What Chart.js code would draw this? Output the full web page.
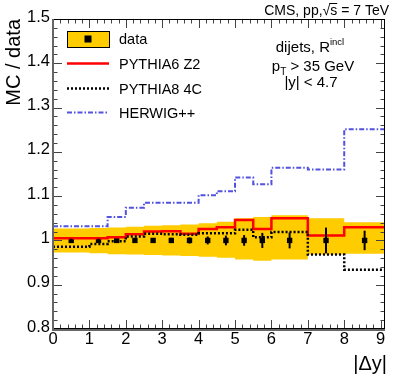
<!DOCTYPE html>
<html>
<head>
<meta charset="utf-8">
<script src="https://cdn.jsdelivr.net/npm/chart.js@4.4.1/dist/chart.umd.min.js"></script>
<style>
  body { margin: 0; background: #fff; }
  canvas { display: block; }
</style>
</head>
<body>
<canvas id="ratioChart" width="407" height="379"></canvas>
<script>
// bin edges in |dy|
const binEdges = [0, 1, 1.5, 2, 2.5, 3, 3.5, 4, 4.5, 5, 5.5, 6, 7, 8, 9.12];

const dataRatio = [1, 1, 1, 1, 1, 1, 1, 1, 1, 1, 1, 1, 1, 1];
const dataStatErr = [0.004, 0.004, 0.004, 0.005, 0.005, 0.006, 0.007, 0.009, 0.011, 0.012, 0.017, 0.018, 0.029, 0.022];
const bandUp = [1.027, 1.028, 1.029, 1.031, 1.033, 1.034, 1.036, 1.039, 1.042, 1.050, 1.053, 1.057, 1.050, 1.041];
const bandDown = [0.973, 0.971, 0.969, 0.968, 0.967, 0.966, 0.965, 0.963, 0.961, 0.957, 0.954, 0.957, 0.968, 0.970];

const pythia6 = [1.005, 1.005, 1.007, 1.014, 1.020, 1.021, 1.015, 1.026, 1.030, 1.046, 1.026, 1.050, 1.011, 1.030];
const pythia8 = [0.986, 0.992, 0.998, 1.009, 1.015, 1.014, 1.013, 1.016, 1.016, 1.024, 1.007, 1.019, 0.968, 0.934];
const herwig = [1.032, 1.032, 1.053, 1.074, 1.085, 1.085, 1.085, 1.102, 1.111, 1.142, 1.127, 1.164, 1.160, 1.251];

const xTickLabels = ['0', '1', '2', '3', '4', '5', '6', '7', '8', '9'];
const yTickLabels = ['0.8', '0.9', '1', '1.1', '1.2', '1.3', '1.4', '1.5'];

const legendNames = ['data', 'PYTHIA6 Z2', 'PYTHIA8 4C', 'HERWIG++'];

const FONT = '"Liberation Sans", Arial, Helvetica, sans-serif';
const BAND = '#ffcc00';
const RED = '#ff0000';
const BLUE = '#5252e0';

// histogram outline: both edges of every bin
function histPoints(values) {
    const pts = [];
    values.forEach((v, i) => {
        pts.push({ x: binEdges[i], y: v });
        pts.push({ x: binEdges[i + 1], y: v });
    });
    return pts;
}

const binCenters = dataRatio.map((v, i) => ({ x: (binEdges[i] + binEdges[i + 1]) / 2, y: v }));

function drawText(ctx, parts, x, y, align) {
    // parts: [text, size, dy]
    let total = 0;
    parts.forEach(p => {
        ctx.font = p[1] + 'px ' + FONT;
        total += ctx.measureText(p[0]).width;
    });
    let cx = align === 'center' ? x - total / 2 : (align === 'right' ? x - total : x);
    ctx.textAlign = 'left';
    parts.forEach(p => {
        ctx.font = p[1] + 'px ' + FONT;
        ctx.fillText(p[0], cx, y + (p[2] || 0));
        cx += ctx.measureText(p[0]).width;
    });
}

const framePlugin = {
    id: 'framePlugin',
    afterDatasetsDraw(chart) {
        const { ctx, scales: { x, y } } = chart;
        ctx.save();
        ctx.strokeStyle = '#000';
        ctx.lineWidth = 2;
        binCenters.forEach((p, i) => {
            const px = x.getPixelForValue(p.x);
            ctx.beginPath();
            ctx.moveTo(px, y.getPixelForValue(p.y - dataStatErr[i]));
            ctx.lineTo(px, y.getPixelForValue(p.y + dataStatErr[i]));
            ctx.stroke();
        });
        ctx.restore();
    },
    afterDraw(chart) {
        const { ctx, chartArea: a, scales: { x, y } } = chart;
        ctx.save();

        // ticks, pointing inwards on all four sides
        ctx.strokeStyle = '#444';
        ctx.lineWidth = 1;
        ctx.beginPath();
        for (let i = 0; i <= 45; i++) {
            const v = i * 0.2;
            if (v > x.max) break;
            const len = i % 5 === 0 ? 9 : 4.5;
            const px = Math.round(x.getPixelForValue(v)) + 0.5;
            ctx.moveTo(px, a.bottom); ctx.lineTo(px, a.bottom - len);
            ctx.moveTo(px, a.top); ctx.lineTo(px, a.top + len);
        }
        for (let i = 0; i <= 35; i++) {
            const v = 0.8 + i * 0.02;
            const len = i % 5 === 0 ? 9 : 4.5;
            const py = Math.round(y.getPixelForValue(v)) + 0.5;
            ctx.moveTo(a.left, py); ctx.lineTo(a.left + len, py);
            ctx.moveTo(a.right, py); ctx.lineTo(a.right - len, py);
        }
        ctx.stroke();

        // frame
        ctx.strokeStyle = '#000';
        ctx.lineWidth = 1;
        ctx.strokeRect(a.left + 0.5, a.top + 0.5, a.right - a.left - 1, a.bottom - a.top - 1);
        ctx.strokeStyle = '#666';
        ctx.lineWidth = 2;
        ctx.beginPath();
        ctx.moveTo(a.left, a.top); ctx.lineTo(a.left, a.bottom + 1);
        ctx.lineTo(a.right, a.bottom + 1);
        ctx.stroke();

        // tick labels
        ctx.fillStyle = '#000';
        ctx.font = '16.5px ' + FONT;
        ctx.textAlign = 'center';
        ctx.textBaseline = 'top';
        xTickLabels.forEach(t => {
            ctx.fillText(t, x.getPixelForValue(parseFloat(t)), a.bottom + 2);
        });
        ctx.textAlign = 'right';
        ctx.textBaseline = 'middle';
        yTickLabels.forEach(t => {
            ctx.fillText(t, a.left - 3, y.getPixelForValue(parseFloat(t)) - 2);
        });

        // axis titles
        ctx.font = '20px ' + FONT;
        ctx.textAlign = 'right';
        ctx.textBaseline = 'alphabetic';
        ctx.fillText('|\u0394y|', a.right + 2, 370);
        ctx.save();
        ctx.translate(20, a.top);
        ctx.rotate(-Math.PI / 2);
        ctx.fillText('MC / data', 0, 0);
        ctx.restore();

        // header
        ctx.textBaseline = 'alphabetic';
        drawText(ctx, [['CMS, pp,\u221As = 7 TeV', 14]], 389, 15, 'right');
        ctx.font = '14px ' + FONT;
        const hw = ctx.measureText('CMS, pp,\u221As = 7 TeV').width;
        const sx = 389 - hw + ctx.measureText('CMS, pp,\u221A').width;
        ctx.lineWidth = 1;
        ctx.strokeStyle = '#000';
        ctx.beginPath();
        ctx.moveTo(sx - 1, 3.5); ctx.lineTo(sx + ctx.measureText('s').width, 3.5);
        ctx.stroke();

        // selection text
        drawText(ctx, [['dijets, R', 15], ['incl', 9.5, -7]], 310, 52, 'center');
        drawText(ctx, [['p', 15], ['T', 10, 4], [' > 35 GeV', 15]], 313, 71, 'center');
        drawText(ctx, [['|y| < 4.7', 15]], 311, 87, 'center');

        // legend
        const lx0 = 67, lx1 = 109, tx = 119;
        const rows = [39, 63.5, 88.5, 112.5];
        ctx.fillStyle = BAND;
        ctx.fillRect(lx0, 31, lx1 - lx0, 16);
        ctx.strokeStyle = '#000';
        ctx.lineWidth = 1;
        ctx.strokeRect(lx0 + 0.5, 31.5, lx1 - lx0, 16);
        ctx.fillStyle = '#000';
        ctx.fillRect((lx0 + lx1) / 2 - 3.5, 35.5, 7, 7);

        const styles = [null, [RED, 2.5, []], ['#000', 2.5, [2, 2]], [BLUE, 2, [5, 2, 1.5, 2]]];
        styles.forEach((s, i) => {
            if (!s) return;
            ctx.strokeStyle = s[0];
            ctx.lineWidth = s[1];
            ctx.setLineDash(s[2]);
            ctx.beginPath();
            ctx.moveTo(lx0, rows[i]); ctx.lineTo(lx1, rows[i]);
            ctx.stroke();
        });
        ctx.setLineDash([]);
        ctx.fillStyle = '#000';
        ctx.font = '14.5px ' + FONT;
        ctx.textAlign = 'left';
        ctx.textBaseline = 'middle';
        legendNames.forEach((n, i) => ctx.fillText(n, tx, rows[i] + 1));

        ctx.restore();
    }
};

new Chart(document.getElementById('ratioChart'), {
    type: 'line',
    data: {
        datasets: [
            {
                label: 'band up',
                data: histPoints(bandUp),
                borderWidth: 0,
                pointRadius: 0,
                backgroundColor: BAND,
                fill: '+1',
                order: 10
            },
            {
                label: 'band down',
                data: histPoints(bandDown),
                borderWidth: 0,
                pointRadius: 0,
                fill: false,
                order: 11
            },
            {
                label: 'data',
                type: 'scatter',
                data: binCenters,
                pointStyle: 'rect',
                pointRadius: 3.8,
                backgroundColor: '#000',
                borderColor: '#000',
                borderWidth: 0,
                order: 6
            },
            {
                label: 'PYTHIA6 Z2',
                data: histPoints(pythia6),
                borderColor: RED,
                borderWidth: 2.5,
                pointRadius: 0,
                fill: false,
                order: 3
            },
            {
                label: 'PYTHIA8 4C',
                data: histPoints(pythia8),
                borderColor: '#000',
                borderWidth: 2.5,
                borderDash: [2, 2],
                pointRadius: 0,
                fill: false,
                order: 2
            },
            {
                label: 'HERWIG++',
                data: histPoints(herwig),
                borderColor: BLUE,
                borderWidth: 2,
                borderDash: [5, 2, 1.5, 2],
                pointRadius: 0,
                fill: false,
                order: 1
            }
        ]
    },
    options: {
        responsive: false,
        animation: false,
        layout: {
            padding: { left: 53, right: 22, top: 19, bottom: 50 }
        },
        plugins: {
            legend: { display: false },
            tooltip: { enabled: false }
        },
        scales: {
            x: {
                type: 'linear',
                min: 0,
                max: 9.12,
                display: false
            },
            y: {
                min: 0.8,
                max: 1.5,
                display: false
            }
        }
    },
    plugins: [framePlugin]
});
</script>
</body>
</html>
